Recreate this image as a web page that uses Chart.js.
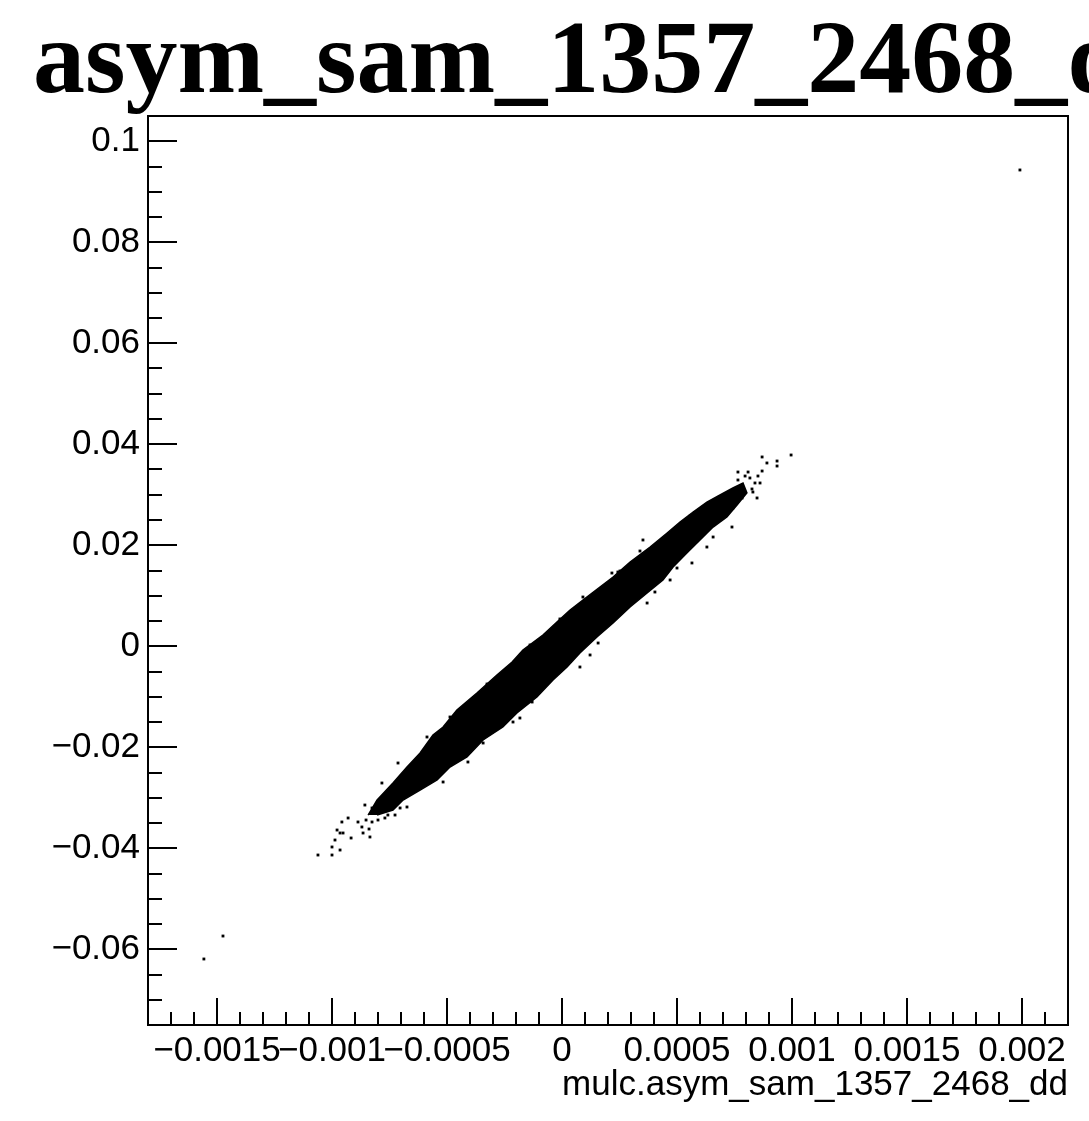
<!DOCTYPE html>
<html>
<head>
<meta charset="utf-8">
<title>asym_sam_1357_2468_dd</title>
<script src="https://cdn.jsdelivr.net/npm/chart.js"></script>
<style>
  html, body { margin: 0; padding: 0; background: #fff; }
  canvas { display: block; }
</style>
</head>
<body>
<canvas id="scatterChart" width="1089" height="1121"></canvas>
<script>
const plotTitle = "asym_sam_1357_2468_dd";
const xAxisTitle = "mulc.asym_sam_1357_2468_dd";

const xRange = [-0.0018, 0.0022];
const yRange = [-0.075, 0.105];
const xTickValues = [-0.0015, -0.001, -0.0005, 0, 0.0005, 0.001, 0.0015, 0.002];
const yTickValues = [-0.06, -0.04, -0.02, 0, 0.02, 0.04, 0.06, 0.08, 0.1];
const xMinorStep = 0.0001;
const yMinorStep = 0.005;

// outline of the dense core (upper edge, then back along the lower edge)
const coreX = [
  -0.000843, -0.000804, -0.000735, -0.000674, -0.000617, -0.000561, -0.000517,
  -0.000457, -0.00037, -0.000283, -0.000217, -0.00017, -0.000083, -0.000022,
  0.000035, 0.000091, 0.000165, 0.000222, 0.000296, 0.000383, 0.000457,
  0.000513, 0.00057, 0.00063, 0.000687, 0.000743, 0.000787,
  0.000804, 0.000761, 0.000717, 0.000657, 0.0006, 0.000543, 0.000483,
  0.000439, 0.00037, 0.000296, 0.000222, 0.000152, 0.000078, 0.000022,
  -0.000039, -0.000109, -0.000196, -0.000257, -0.000343, -0.000413, -0.000487,
  -0.000543, -0.000617, -0.000691, -0.000735, -0.000804,
];
const coreY = [
  -0.03342, -0.03045, -0.02708, -0.02391, -0.02114, -0.01757, -0.01599,
  -0.01262, -0.00926, -0.00569, -0.00312, -0.00074, 0.00223, 0.0048,
  0.00718, 0.00916, 0.01173, 0.01371, 0.01668, 0.01965, 0.02243,
  0.0246, 0.02658, 0.02856, 0.02995, 0.03134, 0.03233,
  0.03035, 0.02797, 0.02559, 0.02361, 0.02104, 0.01847, 0.01569,
  0.01312, 0.01054, 0.00777, 0.0046, 0.00183, -0.00134, -0.00411,
  -0.00668, -0.01005, -0.01322, -0.01599, -0.01856, -0.02193, -0.02391,
  -0.02649, -0.02847, -0.03045, -0.03243, -0.03342,
];

// single events around the core
const strayX = [
  -0.001061, -0.001, -0.001, -0.000987, -0.000965, -0.000965, -0.000957, -0.00093,
  -0.000978, -0.000952, -0.000917, -0.000887, -0.00087, -0.000865, -0.000835, -0.000839,
  -0.0008, -0.000857, -0.000783, -0.000713, -0.000674, -0.000757, -0.000587, -0.000561,
  -0.000487, -0.00043, -0.000409, -0.000517, -0.000343, -0.000213, -0.000291, -0.000139,
  -0.00013,
  0.000996, 0.000935, 0.000935, 0.00087, 0.000891, 0.00087, 0.000809, 0.000765,
  0.000861, 0.000848, 0.00083, 0.000739, 0.000657, 0.00063, 0.000565, 0.0005,
  0.00047, 0.000352, 0.000243, 0.000217, 0.000091, 0.00037, 0.000157, 0.000078,
  0.000339,
  0.000817, 0.000839, 0.000796, 0.000852, 0.000765, 0.000826, 0.000783, 0.000743,
  0.000709, 0.000678,
  -0.000826, -0.000791, -0.00077, -0.000726, -0.000704, -0.000826, -0.000852,
  -0.000326, -0.000009, 0.000252, 0.000557, -0.000183, 0.000122, 0.000404,
  0.001991, -0.001557, -0.001474,
];
const strayY = [
  -0.04134, -0.04134, -0.03975, -0.03837, -0.03698, -0.04035, -0.0348, -0.03401,
  -0.03639, -0.03698, -0.03797, -0.0348, -0.03579, -0.03698, -0.03777, -0.03619,
  -0.03441, -0.03144, -0.02708, -0.02312, -0.03183, -0.03342, -0.01797, -0.01856,
  -0.01401, -0.01262, -0.02292, -0.02688, -0.01916, -0.015, -0.00668, 0.00025,
  -0.01104,
  0.03787, 0.03668, 0.03569, 0.03748, 0.03629, 0.0347, 0.0345, 0.0345,
  0.03233, 0.02936, 0.03054, 0.02361, 0.02163, 0.01965, 0.01649, 0.01549,
  0.01312, 0.02104, 0.0147, 0.0145, 0.00975, 0.00856, 0.00064, -0.00411,
  0.01886,
  0.03332, 0.03233, 0.03371, 0.03371, 0.03292, 0.03114, 0.02936, 0.02738,
  0.02619, 0.025,
  -0.0348, -0.03282, -0.03401, -0.03342, -0.03203, -0.03203, -0.03441,
  -0.00748, 0.0054, 0.0149, 0.02579, -0.01421, -0.00173, 0.01074,
  0.09431, -0.06193, -0.05738,
];

const labelFont = { family: '"Liberation Sans", Arial, sans-serif', size: 35 };
const fmt = (v) => Number(v.toPrecision(6)).toString().replace("-", "\u2212");

// ROOT style frame, inward ticks and the big title
const rootFrame = {
  id: "rootFrame",
  afterDraw(chart) {
    const { ctx, chartArea: a, scales } = chart;
    ctx.save();
    ctx.strokeStyle = "#000";
    ctx.lineWidth = 2;
    ctx.strokeRect(a.left, a.top, a.right - a.left, a.bottom - a.top);

    ctx.beginPath();
    const i0 = Math.ceil(xRange[0] / xMinorStep - 1e-6);
    const i1 = Math.floor(xRange[1] / xMinorStep + 1e-6);
    for (let i = i0; i <= i1; i++) {
      const px = Math.round(scales.x.getPixelForValue(i * xMinorStep));
      const len = i % 5 === 0 ? 27 : 13;
      ctx.moveTo(px, a.bottom);
      ctx.lineTo(px, a.bottom - len);
    }
    const j0 = Math.ceil(yRange[0] / yMinorStep - 1e-6);
    const j1 = Math.floor(yRange[1] / yMinorStep + 1e-6);
    for (let j = j0; j <= j1; j++) {
      const py = Math.round(scales.y.getPixelForValue(j * yMinorStep));
      const len = j % 4 === 0 ? 29 : 14;
      ctx.moveTo(a.left, py);
      ctx.lineTo(a.left + len, py);
    }
    ctx.stroke();

    ctx.fillStyle = "#000";
    ctx.font = 'bold 104px "Liberation Serif", "Times New Roman", serif';
    ctx.textAlign = "left";
    ctx.textBaseline = "alphabetic";
    ctx.fillText(plotTitle, 33, 92);
    ctx.restore();
  },
};

const ctx = document.getElementById("scatterChart");

new Chart(ctx, {
  type: "scatter",
  data: {
    datasets: [
      {
        type: "line",
        data: coreX.map((x, i) => ({ x, y: coreY[i] })),
        fill: "shape",
        backgroundColor: "#000",
        borderColor: "#000",
        borderWidth: 1.5,
        pointRadius: 0,
        tension: 0,
      },
      {
        data: strayX.map((x, i) => ({ x, y: strayY[i] })),
        pointStyle: "rect",
        pointRadius: 2,
        backgroundColor: "#000",
        borderWidth: 0,
      },
    ],
  },
  options: {
    responsive: false,
    animation: false,
    devicePixelRatio: 1,
    layout: { padding: { left: 0, top: 116, right: 21, bottom: 0 } },
    plugins: {
      legend: { display: false },
      tooltip: { enabled: false },
    },
    scales: {
      x: {
        type: "linear",
        min: xRange[0],
        max: xRange[1],
        grid: { display: false, drawTicks: false },
        border: { display: false },
        afterBuildTicks: (s) => {
          s.ticks = xTickValues.map((v) => ({ value: v }));
        },
        afterFit: (s) => {
          s.height = 96;
        },
        ticks: {
          autoSkip: false,
          maxRotation: 0,
          minRotation: 0,
          padding: 5,
          color: "#000",
          font: labelFont,
          callback: fmt,
        },
        title: {
          display: true,
          text: xAxisTitle,
          align: "end",
          color: "#000",
          font: labelFont,
          padding: { top: 0, bottom: 15 },
        },
      },
      y: {
        type: "linear",
        min: yRange[0],
        max: yRange[1],
        grid: { display: false, drawTicks: false },
        border: { display: false },
        afterBuildTicks: (s) => {
          s.ticks = yTickValues.map((v) => ({ value: v }));
        },
        afterFit: (s) => {
          s.width = 148;
        },
        ticks: {
          autoSkip: false,
          padding: 8,
          color: "#000",
          font: labelFont,
          callback: fmt,
        },
      },
    },
  },
  plugins: [rootFrame],
});
</script>
</body>
</html>
